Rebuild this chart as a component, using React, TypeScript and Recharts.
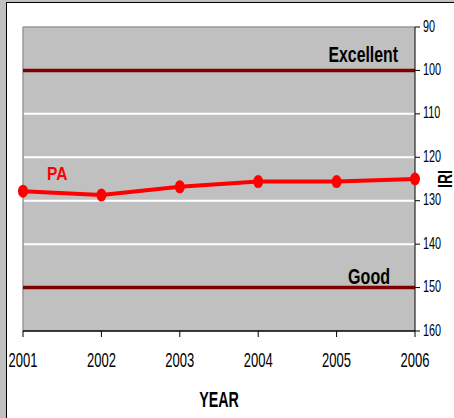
import { CartesianGrid, LabelList, Line, LineChart, ReferenceLine, XAxis, YAxis } from "recharts";

const years = ["2001", "2002", "2003", "2004", "2005", "2006"];
const paValues = [127.8, 128.7, 126.8, 125.6, 125.6, 125.0];
const yTicks = [90, 100, 110, 120, 130, 140, 150, 160];
const gridValues = [110, 120, 130, 140];
const excellentLevel = 100;
const goodLevel = 150;

const data = years.map((year, i) => ({ year, pa: paValues[i] }));

const FONT = "'Liberation Sans', Arial, sans-serif";
const DARK_RED = "#800000";

// squeezed text, the source picture uses a very condensed face
function NarrowText({
	x,
	y,
	sx,
	size,
	bold,
	anchor,
	fill = "#000",
	rotate = 0,
	children,
}: {
	x: number;
	y: number;
	sx: number;
	size: number;
	bold?: boolean;
	anchor: "start" | "middle" | "end";
	fill?: string;
	rotate?: number;
	children: string;
}) {
	return (
		<text
			transform={`translate(${x} ${y}) rotate(${rotate}) scale(${sx} 1)`}
			textAnchor={anchor}
			fontFamily={FONT}
			fontSize={size}
			fontWeight={bold ? 700 : 400}
			fill={fill}>
			{children}
		</text>
	);
}

function XTick(props: any) {
	const { x, y, payload } = props;
	return (
		<NarrowText x={x} y={y + 28} sx={0.62} size={21} anchor="middle">
			{payload.value}
		</NarrowText>
	);
}

function YTick(props: any) {
	const { x, y, payload } = props;
	return (
		<NarrowText x={x} y={y + 4.5} sx={0.68} size={16} anchor="start">
			{String(payload.value)}
		</NarrowText>
	);
}

function PaLabel(props: any) {
	const { x, y, index } = props;
	if (index !== 0) return null;
	return (
		<NarrowText x={x + 24} y={y - 11} sx={0.82} size={19} bold anchor="start" fill="#ff0000">
			PA
		</NarrowText>
	);
}

function Dot(props: any) {
	const { cx, cy, index } = props;
	return <ellipse key={index} cx={cx} cy={cy} rx={5} ry={6.5} fill="#ff0000" />;
}

export default function App() {
	return (
		<div
			style={{
				position: "fixed",
				left: 0,
				top: 0,
				width: 454,
				height: 418,
				overflow: "hidden",
				background: "#c0c0c0",
			}}>
			<div
				style={{
					position: "absolute",
					left: 6,
					top: 2,
					width: 520,
					height: 480,
					background: "#fff",
					border: "1px solid #000",
				}}
			/>
			<div style={{ position: "absolute", left: 0, top: 0 }}>
				<LineChart
					width={454}
					height={418}
					data={data}
					margin={{ top: 27, right: 0, left: 23, bottom: 0 }}>
					<CartesianGrid
						vertical={false}
						horizontalValues={gridValues}
						stroke="#fff"
						strokeWidth={2}
						fill="#c0c0c0"
						fillOpacity={1}
					/>
					<XAxis
						dataKey="year"
						height={87}
						tickSize={6}
						tickMargin={2}
						interval={0}
						axisLine={{ stroke: "#000", strokeWidth: 1.5 }}
						tickLine={{ stroke: "#000" }}
						tick={<XTick />}
						label={{
							content: (p: any) => (
								<NarrowText
									x={p.viewBox.x + p.viewBox.width / 2}
									y={p.viewBox.y + 76}
									sx={0.65}
									size={22}
									bold
									anchor="middle">
									YEAR
								</NarrowText>
							),
						}}
					/>
					<YAxis
						orientation="right"
						width={39}
						domain={[90, 160]}
						ticks={yTicks}
						reversed
						interval={0}
						tickSize={5}
						tickMargin={3}
						axisLine={{ stroke: "#000" }}
						tickLine={{ stroke: "#000" }}
						tick={<YTick />}
						label={{
							content: (p: any) => (
								<NarrowText
									x={p.viewBox.x + 37}
									y={p.viewBox.y + p.viewBox.height / 2}
									sx={0.7}
									size={20}
									bold
									rotate={-90}
									anchor="middle">
									IRI
								</NarrowText>
							),
						}}
					/>
					<ReferenceLine y={90} stroke="#999" strokeWidth={1.5} />
					<ReferenceLine x="2001" stroke="#999" strokeWidth={1.5} />
					<ReferenceLine
						y={excellentLevel}
						stroke={DARK_RED}
						strokeWidth={3.5}
						label={{
							content: (p: any) => (
								<NarrowText
									x={p.viewBox.x + p.viewBox.width - 17}
									y={p.viewBox.y - 8.5}
									sx={0.72}
									size={22}
									bold
									anchor="end">
									Excellent
								</NarrowText>
							),
						}}
					/>
					<ReferenceLine
						y={goodLevel}
						stroke={DARK_RED}
						strokeWidth={3.5}
						label={{
							content: (p: any) => (
								<NarrowText
									x={p.viewBox.x + p.viewBox.width - 25}
									y={p.viewBox.y - 4}
									sx={0.73}
									size={22}
									bold
									anchor="end">
									Good
								</NarrowText>
							),
						}}
					/>
					<Line
						dataKey="pa"
						stroke="#ff0000"
						strokeWidth={4}
						dot={<Dot />}
						activeDot={false}
						isAnimationActive={false}>
						<LabelList dataKey="pa" content={<PaLabel />} />
					</Line>
				</LineChart>
			</div>
		</div>
	);
}
